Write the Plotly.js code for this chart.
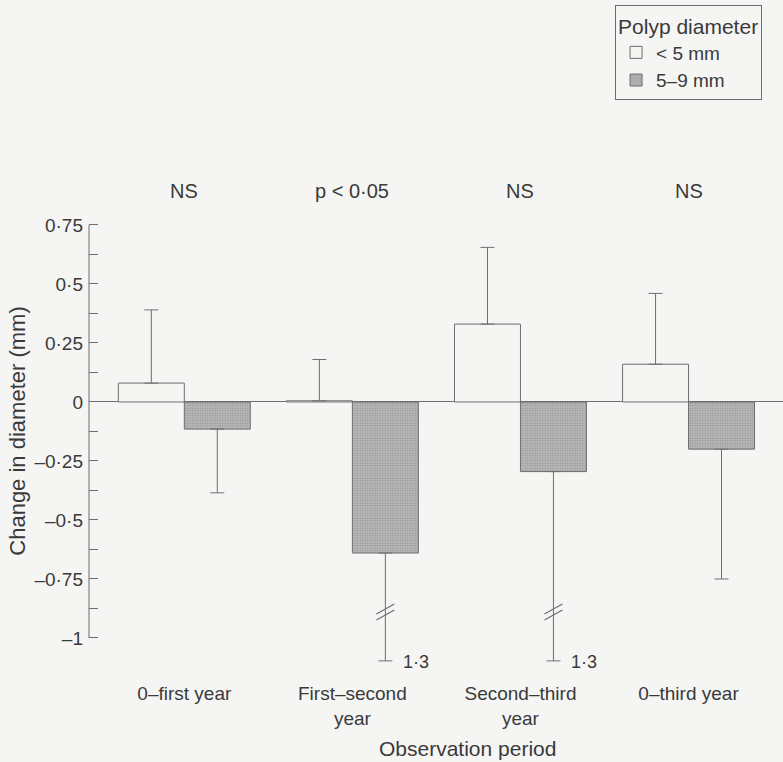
<!DOCTYPE html>
<html>
<head>
<meta charset="utf-8">
<script src="https://cdn.plot.ly/plotly-3.0.1.min.js"></script>
<style>html,body{margin:0;padding:0;background:#f5f5f4;}</style>
</head>
<body>
<div id="chart" style="width:783px;height:762px;"></div>
<script>
// ---- data ----
const categories = ['0–first year', 'First–second<br>year', 'Second–third<br>year', '0–third year'];
const smallMean = [0.08, 0.005, 0.33, 0.16];          // < 5 mm
const smallErrUp = [0.31, 0.175, 0.325, 0.30];
const largeMean = [-0.115, -0.64, -0.295, -0.20];     // 5–9 mm
const largeLower = [-0.385, -1.3, -1.3, -0.75];       // lower end of error bar
const largeLowerLabel = ['', '1·3', '1·3', ''];
const sigLabels = ['NS', 'p < 0·05', 'NS', 'NS'];
const yTickVals = [-1, -0.75, -0.5, -0.25, 0, 0.25, 0.5, 0.75];
const yTickText = ['–1', '–0·75', '–0·5', '–0·25', '0', '0·25', '0·5', '0·75'];
const yMinorVals = [-0.875, -0.625, -0.375, -0.125, 0.125, 0.375, 0.625];

// ---- style / layout constants ----
const BG = '#f5f5f4';
const INK = '#3a3a3a';
const LINE = '#6e6e6e';
const FONT = '"Liberation Sans", Arial, sans-serif';
const NARROW = '"Liberation Sans Narrow", "Arial Narrow", "Liberation Sans", Arial, sans-serif';
const BARGAP = 0.215;
const BREAK_DRAW_LIMIT = -1.097;   // where truncated error bars are drawn to
const BREAK_AT = -0.89;            // position of the break marks

const xIdx = categories.map((c, i) => i);
const offset = (1 - BARGAP) / 4;
const drawnLower = largeLower.map(v => Math.max(v, BREAK_DRAW_LIMIT));
const largeErrDown = largeMean.map((m, i) => m - drawnLower[i]);

const errStyle = {color: LINE, thickness: 1, width: 7};

const traces = [
  {
    type: 'bar', name: '< 5 mm', x: xIdx, y: smallMean,
    marker: {color: BG, line: {color: LINE, width: 1}},
    error_y: Object.assign({type: 'data', symmetric: false, array: smallErrUp,
      arrayminus: smallMean.map(() => 0)}, errStyle),
    hoverinfo: 'skip'
  },
  {
    type: 'bar', name: '5–9 mm', x: xIdx, y: largeMean,
    marker: {color: '#b0b0b0', line: {color: LINE, width: 1},
      pattern: {shape: '.', fgcolor: '#939393', bgcolor: '#bdbdbd', size: 2.5, solidity: 0.4}},
    error_y: Object.assign({type: 'data', symmetric: false, array: largeMean.map(() => 0),
      arrayminus: largeErrDown}, errStyle),
    hoverinfo: 'skip'
  }
];

const annotations = [];
sigLabels.forEach((t, i) => {
  annotations.push({x: i, y: 0.894, xref: 'x', yref: 'y', text: t, showarrow: false,
    font: {family: FONT, size: 20, color: INK}, xanchor: 'center', yanchor: 'middle'});
});
largeLowerLabel.forEach((t, i) => {
  if (!t) return;
  annotations.push({x: i + offset, y: drawnLower[i], xref: 'x', yref: 'y', text: t, showarrow: false,
    font: {family: FONT, size: 18, color: INK}, xanchor: 'left', yanchor: 'middle', xshift: 16, yshift: -1});
});
annotations.push({x: 0.545, y: -0.137, xref: 'paper', yref: 'paper', yanchor: 'middle',
  text: 'Observation period', showarrow: false, font: {family: FONT, size: 21, color: INK}});

const shapes = [
  // y axis line from -1 to 0.75
  {type: 'line', xref: 'paper', yref: 'y', x0: 0, x1: 0, y0: yTickVals[0], y1: yTickVals[yTickVals.length - 1],
    line: {color: LINE, width: 1}}
];
largeLower.forEach((v, i) => {
  if (v >= BREAK_DRAW_LIMIT) return;
  [-3, 3].forEach(d => {
    shapes.push({type: 'line', xref: 'x', yref: 'y', xsizemode: 'pixel', ysizemode: 'pixel',
      xanchor: i + offset, yanchor: BREAK_AT, x0: -9, x1: 9, y0: -5 + d, y1: 5 + d,
      line: {color: LINE, width: 1.2}});
  });
});

const layout = {
  width: 783, height: 762,
  paper_bgcolor: BG, plot_bgcolor: BG,
  margin: {l: 89, r: 0, t: 182, b: 82},
  barmode: 'group', bargap: BARGAP, bargroupgap: 0,
  font: {family: FONT, color: INK},
  showlegend: true,
  legend: {
    x: 0.758, y: 1.355, xanchor: 'left', yanchor: 'top',
    bgcolor: BG, bordercolor: LINE, borderwidth: 1,
    title: {text: 'Polyp diameter', font: {family: FONT, size: 21, color: INK}},
    font: {family: FONT, size: 19, color: INK},
    tracegroupgap: 0, itemwidth: 30
  },
  xaxis: {
    range: [-0.567, 3.562], tickmode: 'array', tickvals: xIdx, ticktext: categories,
    showline: false, showgrid: false, zeroline: false, ticks: '',
    tickfont: {family: NARROW, size: 19, color: INK}, fixedrange: true
  },
  yaxis: {
    range: [-1.178, 0.932], tickmode: 'array', tickvals: yTickVals, ticktext: yTickText,
    ticks: 'inside', ticklen: 9, tickcolor: LINE, tickwidth: 1, ticklabelstandoff: 5,
    minor: {tickmode: 'array', tickvals: yMinorVals, ticks: 'inside', ticklen: 9, tickcolor: LINE, tickwidth: 1, showgrid: false},
    showline: false, showgrid: false,
    zeroline: true, zerolinecolor: LINE, zerolinewidth: 1,
    tickfont: {family: FONT, size: 19, color: INK},
    title: {text: 'Change in diameter (mm)', font: {family: FONT, size: 22, color: INK}, standoff: 2},
    fixedrange: true
  },
  annotations: annotations,
  shapes: shapes
};

Plotly.newPlot('chart', traces, layout, {displayModeBar: false, staticPlot: true});
</script>
</body>
</html>
